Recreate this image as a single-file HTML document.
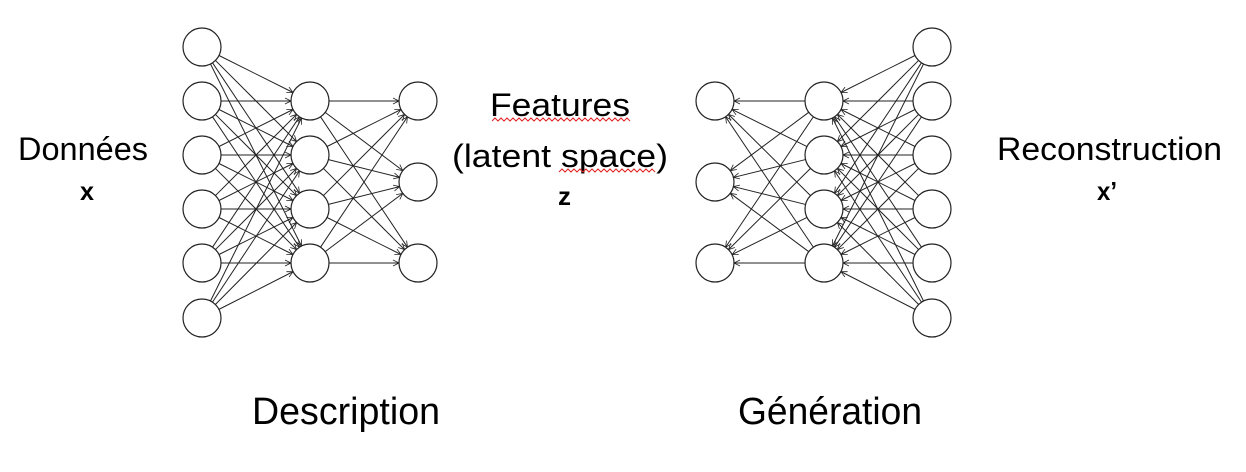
<!DOCTYPE html>
<html><head><meta charset="utf-8"><style>
html,body{margin:0;padding:0;background:#fff;width:1246px;height:472px;overflow:hidden}
svg{display:block}
text{font-family:"Liberation Sans",sans-serif;fill:#000}
</style></head><body>
<svg id="s" width="1246" height="472" viewBox="0 0 1246 472" xmlns="http://www.w3.org/2000/svg">
<defs>
<marker id="a" markerWidth="8" markerHeight="8" refX="7" refY="4" orient="auto" markerUnits="userSpaceOnUse">
<path d="M1,1 L7,4 L1,7" fill="none" stroke="#222" stroke-width="0.8"/>
</marker>
</defs>
<g id="lines" stroke="#222" stroke-width="1" fill="none"></g>
<g id="nodes" stroke="#222" stroke-width="1.2" fill="#fff"></g>
<text x="18" y="160" font-size="32" textLength="130" lengthAdjust="spacingAndGlyphs">Données</text>
<text x="80" y="200" font-size="26" font-weight="bold" textLength="14" lengthAdjust="spacingAndGlyphs">x</text>
<text x="490" y="116" font-size="32" textLength="140" lengthAdjust="spacingAndGlyphs">Features</text>
<text x="452" y="167" font-size="32" textLength="216" lengthAdjust="spacingAndGlyphs">(latent space)</text>
<text x="558" y="205" font-size="26" font-weight="bold" textLength="13" lengthAdjust="spacingAndGlyphs">z</text>
<path d="M492,121 l3,-3 l3,3 l3,-3 l3,3 l3,-3 l3,3 l3,-3 l3,3 l3,-3 l3,3 l3,-3 l3,3 l3,-3 l3,3 l3,-3 l3,3 l3,-3 l3,3 l3,-3 l3,3 l3,-3 l3,3 l3,-3 l3,3 l3,-3 l3,3 l3,-3 l3,3 l3,-3 l3,3 l3,-3 l3,3 l3,-3 l3,3 l3,-3 l3,3 l3,-3 l3,3 l3,-3 l3,3 l3,-3 l3,3 l3,-3 l3,3 l3,-3 l3,3" stroke="#e02020" stroke-width="1" fill="none"/>
<path d="M559,172 l3,-3 l3,3 l3,-3 l3,3 l3,-3 l3,3 l3,-3 l3,3 l3,-3 l3,3 l3,-3 l3,3 l3,-3 l3,3 l3,-3 l3,3 l3,-3 l3,3 l3,-3 l3,3 l3,-3 l3,3 l3,-3 l3,3 l3,-3 l3,3 l3,-3 l3,3 l3,-3 l3,3 l3,-3 l3,3" stroke="#e02020" stroke-width="1" fill="none"/>
<text x="997" y="160" font-size="32" textLength="225" lengthAdjust="spacingAndGlyphs">Reconstruction</text>
<text x="1097" y="200" font-size="26" font-weight="bold" textLength="20" lengthAdjust="spacingAndGlyphs">x’</text>
<text x="252" y="424" font-size="38" textLength="188" lengthAdjust="spacingAndGlyphs">Description</text>
<text x="738" y="424" font-size="38" textLength="184" lengthAdjust="spacingAndGlyphs">Génération</text>
</svg>
<script>
var NS="http://www.w3.org/2000/svg",R=19;
var L6=[47,101,155,209,263,318],L4=[101,155,209,263],L3=[101,182,263];
function layer(x,ys){return ys.map(function(y){return [x,y];});}
var A1=layer(202,L6),A2=layer(310,L4),A3=layer(418,L3);
var B1=layer(715,L3),B2=layer(824,L4),B3=layer(932,L6);
var lg=document.getElementById('lines'),ng=document.getElementById('nodes');
function conn(F,T){F.forEach(function(f){T.forEach(function(t){
 var dx=t[0]-f[0],dy=t[1]-f[1],d=Math.sqrt(dx*dx+dy*dy),ux=dx/d,uy=dy/d;
 var l=document.createElementNS(NS,'line');
 l.setAttribute('x1',f[0]+ux*R);l.setAttribute('y1',f[1]+uy*R);
 l.setAttribute('x2',t[0]-ux*R);l.setAttribute('y2',t[1]-uy*R);
 l.setAttribute('marker-end','url(#a)');lg.appendChild(l);});});}
conn(A1,A2);conn(A2,A3);conn(B3,B2);conn(B2,B1);
[A1,A2,A3,B1,B2,B3].forEach(function(L){L.forEach(function(p){
 var c=document.createElementNS(NS,'circle');c.setAttribute('cx',p[0]);c.setAttribute('cy',p[1]);c.setAttribute('r',R);ng.appendChild(c);});});
</script>
</body></html>
